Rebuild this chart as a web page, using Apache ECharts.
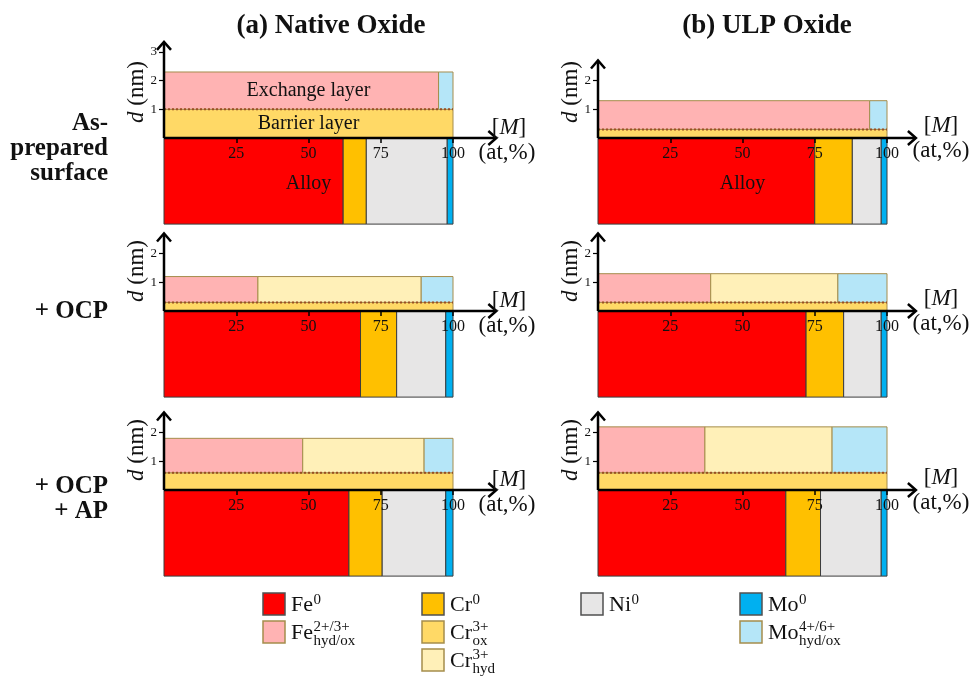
<!DOCTYPE html>
<html>
<head>
<meta charset="utf-8">
<script src="https://cdn.jsdelivr.net/npm/echarts@6/dist/echarts.min.js"></script>
<style>
  html, body { margin: 0; padding: 0; background: #fff; }
  #chart { width: 971px; height: 676px; }
</style>
</head>
<body>
<div id="chart"></div>
<script>
// panel order: (a) row1, (b) row1, (a) row2, (b) row2, (a) row3, (b) row3
const alloyFe = [62, 75, 68, 72, 64, 65];
const alloyCr = [8, 13, 12.5, 13, 11.5, 12];
const alloyNi = [28, 10, 17, 13, 22, 21];
const alloyMo = [2, 2, 2.5, 2, 2.5, 2];
const alloyDepth = 3; // nm drawn below the interface

const barrierD = [1.0, 0.3, 0.3, 0.3, 0.6, 0.6]; // Cr ox barrier thickness (nm)
const oxideD = [2.3, 1.3, 1.2, 1.3, 1.8, 2.2];   // total oxide thickness (nm)
const hydFe = [95, 94, 32.5, 39, 48, 37];
const hydCr = [0, 0, 56.5, 44, 42, 44];
const hydMo = [5, 6, 11, 17, 10, 19];

const xTicks = [25, 50, 75, 100];
const yTicks = [[1, 2, 3], [1, 2], [1, 2], [1, 2], [1, 2], [1, 2]];
const yTop = [3.35, 2.7, 2.7, 2.7, 2.7, 2.7];
const xTop = [115, 110];

const columnTitles = ["(a) Native Oxide", "(b) ULP Oxide"];
const rowLabels = [["As-", "prepared", "surface"], ["+ OCP"], ["+ OCP", "+ AP"]];

const COLORS = {
  fe0: "#ff0000", feHyd: "#ffb3b3",
  cr0: "#ffc000", crOx: "#ffd966", crHyd: "#fff0b8",
  ni0: "#e7e6e6",
  mo0: "#00b0f0", moHyd: "#b5e6f8",
};
const METAL = { fe0: 1, cr0: 1, ni0: 1, mo0: 1 };
const OX_BORDER = "#a58d4c";
const METAL_BORDER = "#3c3c3c";
const SERIF = '"Liberation Serif", "Times New Roman", serif';

// layout
const PX_PCT = 2.89, PX_NM = 28.7;
const colX = [164, 598];
const rowZero = [138, 311, 490];

function panelRects(p) {
  const out = [];
  let x = 0;
  [["fe0", alloyFe[p]], ["cr0", alloyCr[p]], ["ni0", alloyNi[p]], ["mo0", alloyMo[p]]].forEach(([k, w]) => {
    out.push({ kind: k, v: [x, x + w, -alloyDepth, 0] });
    x += w;
  });
  out.push({ kind: "crOx", v: [0, 100, 0, barrierD[p]] });
  x = 0;
  [["feHyd", hydFe[p]], ["crHyd", hydCr[p]], ["moHyd", hydMo[p]]].forEach(([k, w]) => {
    if (w > 0) out.push({ kind: k, v: [x, x + w, barrierD[p], oxideD[p]] });
    x += w;
  });
  return out;
}

const grids = [], xAxes = [], yAxes = [], series = [];
for (let p = 0; p < 6; p++) {
  const col = p % 2, row = Math.floor(p / 2);
  const zero = rowZero[row];
  grids.push({
    left: colX[col],
    top: zero - yTop[p] * PX_NM,
    width: xTop[col] * PX_PCT,
    height: (yTop[p] + alloyDepth) * PX_NM,
  });
  xAxes.push({
    gridIndex: p, type: "value", min: 0, max: xTop[col], z: 10,
    position: "bottom",
    offset: -alloyDepth * PX_NM, // lift the axis to d = 0
    axisLine: { show: false, onZero: false },
    splitLine: { show: false },
    axisTick: { show: true, customValues: xTicks, length: 5, lineStyle: { color: "#000", width: 1.5 } },
    axisLabel: { customValues: xTicks, margin: 8, color: "#111", fontFamily: SERIF, fontSize: 16 },
  });
  yAxes.push({
    gridIndex: p, type: "value", min: -alloyDepth, max: yTop[p], z: 10,
    axisLine: { show: false },
    splitLine: { show: false },
    axisTick: { show: true, customValues: yTicks[p], length: 5, lineStyle: { color: "#000", width: 1.2 } },
    axisLabel: { customValues: yTicks[p], margin: 7, color: "#111", fontFamily: SERIF, fontSize: 13 },
  });

  const rects = panelRects(p);
  series.push({
    type: "custom", xAxisIndex: p, yAxisIndex: p, z: 2, silent: true,
    data: rects.map((r) => r.v),
    encode: { x: [0, 1], y: [2, 3] },
    renderItem: (params, api) => {
      const r = rects[params.dataIndex];
      const a = api.coord([api.value(0), api.value(3)]);
      const b = api.coord([api.value(1), api.value(2)]);
      return {
        type: "rect",
        shape: { x: a[0], y: a[1], width: b[0] - a[0], height: b[1] - a[1] },
        style: { fill: COLORS[r.kind], stroke: METAL[r.kind] ? METAL_BORDER : OX_BORDER, lineWidth: 1 },
      };
    },
  });
  // dotted boundary between barrier and exchange layer
  series.push({
    type: "custom", xAxisIndex: p, yAxisIndex: p, z: 3, silent: true,
    data: [[0, 100, barrierD[p]]],
    encode: { x: [0, 1], y: 2 },
    renderItem: (params, api) => {
      const a = api.coord([api.value(0), api.value(2)]);
      const b = api.coord([api.value(1), api.value(2)]);
      return {
        type: "line",
        shape: { x1: a[0], y1: a[1], x2: b[0], y2: b[1] },
        style: { stroke: "#9a4f22", lineWidth: 2, lineDash: [2, 2] },
      };
    },
  });
  // arrow axes
  series.push({
    type: "custom", xAxisIndex: p, yAxisIndex: p, z: 4, silent: true,
    data: [[xTop[col], yTop[p]]],
    encode: { x: 0, y: 1 },
    renderItem: (params, api) => {
      const o = api.coord([0, 0]);
      const xe = api.coord([api.value(0), 0]);
      const ye = api.coord([0, api.value(1)]);
      const st = { stroke: "#000", lineWidth: 2.5, fill: null };
      return {
        type: "group",
        children: [
          { type: "line", shape: { x1: o[0], y1: o[1], x2: xe[0] - 1, y2: xe[1] }, style: st },
          { type: "polyline", shape: { points: [[xe[0] - 8, xe[1] - 7], [xe[0], xe[1]], [xe[0] - 8, xe[1] + 7]] }, style: st },
          { type: "line", shape: { x1: o[0], y1: o[1], x2: ye[0], y2: ye[1] + 1 }, style: st },
          { type: "polyline", shape: { points: [[ye[0] - 7, ye[1] + 8], [ye[0], ye[1]], [ye[0] + 7, ye[1] + 8]] }, style: st },
        ],
      };
    },
  });
}

// ---- text / graphic ----
function txt(x, y, text, font, align, extra) {
  return Object.assign({
    type: "text", x: x, y: y, z: 100, silent: true,
    style: { text: text, font: font, fill: "#111", align: align || "center", verticalAlign: "middle",
             textAlign: align || "center", textVerticalAlign: "middle" },
  }, extra || {});
}

const graphic = [];
graphic.push(txt(331, 26, columnTitles[0], "bold 27px " + SERIF));
graphic.push(txt(767, 26, columnTitles[1], "bold 27px " + SERIF));

const rowLabelY = [[124, 149, 174], [312], [487, 512]];
rowLabels.forEach((lines, r) => lines.forEach((s, i) => {
  graphic.push(txt(108, rowLabelY[r][i], s, "bold 25px " + SERIF, "right"));
}));

const dLabelX = [137, 571];
const dLabelY = [92, 271, 450];
const mLabel = [{ mx: 509, my: -10, ax: 507, ay: 15 }, { mx: 941, my: -12, ax: 941, ay: 13 }];
for (let r = 0; r < 3; r++) {
  for (let c = 0; c < 2; c++) {
    graphic.push({
      type: "text", x: dLabelX[c], y: dLabelY[r], rotation: Math.PI / 2, z: 100, silent: true,
      style: {
        text: "{i|d}{n| (nm)}", align: "center", verticalAlign: "middle", textAlign: "center", textVerticalAlign: "middle",
        rich: {
          i: { fontFamily: SERIF, fontSize: 23, fontStyle: "italic", fill: "#111", color: "#111" },
          n: { fontFamily: SERIF, fontSize: 23, fill: "#111", color: "#111" },
        },
      },
    });
    const z = rowZero[r], m = mLabel[c];
    graphic.push({
      type: "text", x: m.mx, y: z + m.my, z: 100, silent: true,
      style: {
        text: "{n|[}{i|M}{n|]}", align: "center", verticalAlign: "middle", textAlign: "center", textVerticalAlign: "middle",
        rich: {
          i: { fontFamily: SERIF, fontSize: 23, fontStyle: "italic", fill: "#111", color: "#111" },
          n: { fontFamily: SERIF, fontSize: 23, fill: "#111", color: "#111" },
        },
      },
    });
    graphic.push(txt(m.ax, z + m.ay, "(at,%)", "23px " + SERIF));
  }
}

// in-panel annotations
graphic.push(txt(colX[0] + 50 * PX_PCT, rowZero[0] - (barrierD[0] + oxideD[0]) / 2 * PX_NM, "Exchange layer", "20px " + SERIF));
graphic.push(txt(colX[0] + 50 * PX_PCT, rowZero[0] - barrierD[0] / 2 * PX_NM, "Barrier layer", "20px " + SERIF));
graphic.push(txt(colX[0] + 50 * PX_PCT, rowZero[0] + 1.6 * PX_NM, "Alloy", "20px " + SERIF));
graphic.push(txt(colX[1] + 50 * PX_PCT, rowZero[0] + 1.6 * PX_NM, "Alloy", "20px " + SERIF));

// legend
const ctx = document.createElement("canvas").getContext("2d");
ctx.font = "22px " + SERIF;
const legendX = [263, 422, 581, 740];
const legendY = [593, 621, 649];
const legendItems = [
  { c: 0, r: 0, kind: "fe0", base: "Fe", sup: "0", sub: "" },
  { c: 0, r: 1, kind: "feHyd", base: "Fe", sup: "2+/3+", sub: "hyd/ox" },
  { c: 1, r: 0, kind: "cr0", base: "Cr", sup: "0", sub: "" },
  { c: 1, r: 1, kind: "crOx", base: "Cr", sup: "3+", sub: "ox" },
  { c: 1, r: 2, kind: "crHyd", base: "Cr", sup: "3+", sub: "hyd" },
  { c: 2, r: 0, kind: "ni0", base: "Ni", sup: "0", sub: "" },
  { c: 3, r: 0, kind: "mo0", base: "Mo", sup: "0", sub: "" },
  { c: 3, r: 1, kind: "moHyd", base: "Mo", sup: "4+/6+", sub: "hyd/ox" },
];
legendItems.forEach((it) => {
  const x = legendX[it.c], y = legendY[it.r];
  graphic.push({
    type: "rect", z: 100, silent: true,
    shape: { x: x, y: y, width: 22, height: 22 },
    style: { fill: COLORS[it.kind], stroke: METAL[it.kind] ? "#505050" : OX_BORDER, lineWidth: 1.5 },
  });
  graphic.push(txt(x + 28, y + 12, it.base, "22px " + SERIF, "left"));
  const w = ctx.measureText(it.base).width;
  const supY = it.sub ? y + 6 : y + 7;
  graphic.push(txt(x + 28 + w + 0.5, supY, it.sup, "15px " + SERIF, "left"));
  if (it.sub) graphic.push(txt(x + 28 + w + 0.5, y + 20, it.sub, "15px " + SERIF, "left"));
});

const chart = echarts.init(document.getElementById("chart"), null, { renderer: "canvas" });
chart.setOption({
  animation: false,
  backgroundColor: "#fff",
  grid: grids,
  xAxis: xAxes,
  yAxis: yAxes,
  series: series,
  graphic: graphic,
});
</script>
</body>
</html>
